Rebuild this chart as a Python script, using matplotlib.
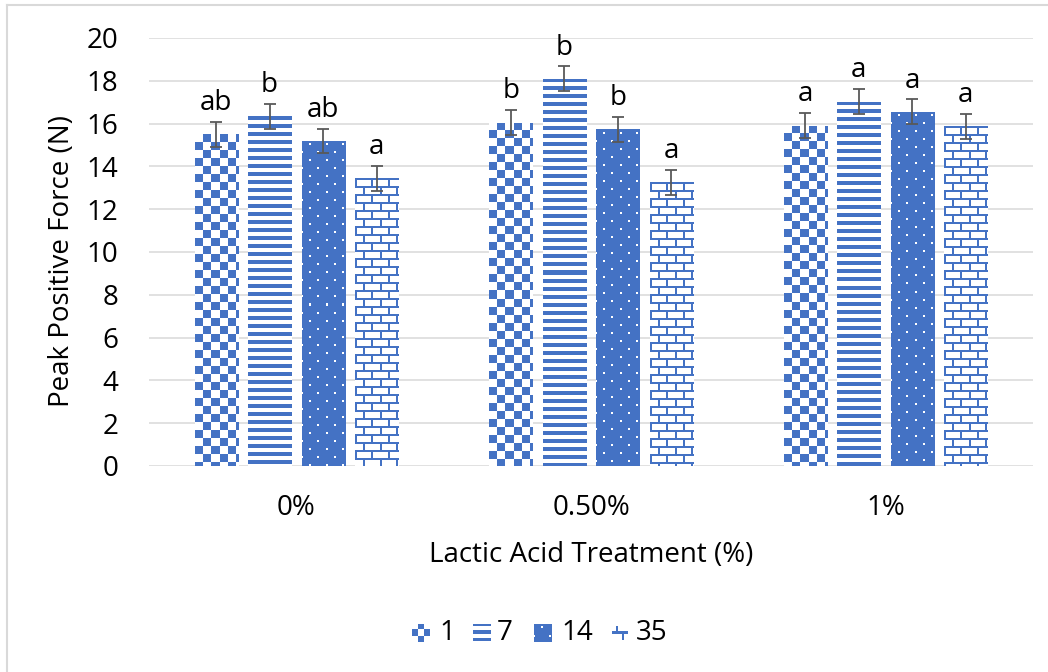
import numpy as np
import matplotlib
matplotlib.use('Agg')
import matplotlib.pyplot as plt
from matplotlib.lines import Line2D

# data
perlakuan = ['0%', '0.50%', '1%']
hari = ['1', '7', '14', '35']
gaya = [
    [15.5, 16.35, 15.2, 13.45],   # hari 1, 7, 14, 35 pada 0%
    [16.05, 18.1, 15.73, 13.25],  # 0.50%
    [15.9, 17.02, 16.55, 15.88],  # 1%
]
galat = [
    [0.58, 0.58, 0.57, 0.58],
    [0.58, 0.57, 0.58, 0.58],
    [0.58, 0.58, 0.58, 0.58],
]
huruf = [
    ['ab', 'b', 'ab', 'a'],
    ['b', 'b', 'b', 'a'],
    ['a', 'a', 'a', 'a'],
]
pola = ['checker', 'stripes', 'dots', 'brick']

biru = np.array([68, 114, 196]) / 255.0
putih = np.array([1.0, 1.0, 1.0])

plt.rcParams['font.family'] = ['Open Sans', 'DejaVu Sans']
ukuran_font = 20


def buat_pola(jenis, w, h, sel=8):
    # pola pixel (h, w, 3) ala arsiran Excel
    y, x = np.mgrid[0:h, 0:w]
    if jenis == 'checker':
        m = ((x // sel + y // sel) % 2) == 1
        dasar = putih
    elif jenis == 'stripes':
        m = (y % sel) < sel // 2
        dasar = putih
    elif jenis == 'dots':
        geser = (y // sel) % 2 * sel
        m = ((y % sel) >= 3) & ((y % sel) <= 4) & (((x + geser) % (2 * sel)) >= 7) & (((x + geser) % (2 * sel)) <= 8)
        img = np.empty((h, w, 3))
        img[:] = biru
        img[m] = putih
        return img
    else:  # brick
        geser = (y // sel) % 2 * sel
        m = ((y % sel) < 2) | (((x + geser) % (2 * sel)) < 2)
        dasar = putih
    img = np.empty((h, w, 3))
    img[:] = dasar
    img[m] = biru
    return img


fig = plt.figure(figsize=(10.48, 6.72), dpi=100)
W, H = 1048, 672
ax = fig.add_axes([149 / W, 1 - 466 / H, 884 / W, 428 / H])

n = len(hari)
lebar = 0.146
langkah = 0.1815
xpos = np.arange(len(perlakuan))
ax.set_xlim(-0.5, len(perlakuan) - 0.5)
ax.set_ylim(0, 20)

bar_list = []
for j in range(n):
    nilai = [gaya[i][j] for i in range(len(perlakuan))]
    xs = xpos + (j - (n - 1) / 2) * langkah
    bars = ax.bar(xs, nilai, width=lebar, color='none', linewidth=0, zorder=2)
    bar_list.append(bars)

# isi pola tiap batang, dipotong mengikuti bentuk batang
for j, bars in enumerate(bar_list):
    for b in bars:
        x0, y0 = b.get_x(), b.get_y()
        x1, y1 = x0 + b.get_width(), y0 + b.get_height()
        p0 = ax.transData.transform((x0, y0))
        p1 = ax.transData.transform((x1, y1))
        w = max(1, int(round(p1[0] - p0[0])))
        h = max(1, int(round(p1[1] - p0[1])))
        im = ax.imshow(buat_pola(pola[j], w, h), extent=(x0, x1, y0, y1),
                       aspect='auto', interpolation='nearest', zorder=2)
        im.set_clip_path(b)

ax.set_xlim(-0.5, len(perlakuan) - 0.5)
ax.set_ylim(0, 20)

# error bar dan huruf notasi
for j in range(n):
    xs = xpos + (j - (n - 1) / 2) * langkah
    nilai = [gaya[i][j] for i in range(len(perlakuan))]
    err = [galat[i][j] for i in range(len(perlakuan))]
    ax.errorbar(xs, nilai, yerr=err, fmt='none', ecolor='#595959',
                elinewidth=1.3, capsize=4.5, capthick=1.3, zorder=3)
    for i in range(len(perlakuan)):
        ax.annotate(huruf[i][j], (xs[i], nilai[i] + err[i]), xytext=(0, 3.5),
                    textcoords='offset points', ha='center', va='bottom',
                    fontsize=ukuran_font, color='black', zorder=4)

ax.set_yticks(np.arange(0, 21, 2))
ax.set_xticks(xpos)
ax.set_xticklabels(perlakuan)
ax.tick_params(axis='both', length=0, labelsize=ukuran_font)
ax.tick_params(axis='y', pad=22)
ax.tick_params(axis='x', pad=20)
ax.grid(axis='y', color='#D9D9D9', linewidth=1.1, zorder=0)
ax.set_axisbelow(True)
for s in ax.spines.values():
    s.set_visible(False)

ax.set_ylabel('Peak Positive Force (N)', fontsize=ukuran_font)
ax.yaxis.set_label_coords((62 - 149) / 884, (466 - 261) / 428)
ax.yaxis.label.set_va('center')
ax.set_xlabel('Lactic Acid Treatment (%)', fontsize=ukuran_font)
ax.xaxis.set_label_coords(0.5, (466 - 555) / 428)
ax.xaxis.label.set_va('center')

# legenda di bawah
ikon_x = [412, 473, 534, 611]
teks_x = [439, 497, 561, 636]
for j in range(n):
    cax = fig.add_axes([ikon_x[j] / W, 1 - 642 / H, 18 / W, 18 / H])
    if pola[j] == 'checker':
        img = buat_pola('checker', 18, 18, sel=6)
    elif pola[j] == 'stripes':
        img = buat_pola('stripes', 18, 18, sel=7)
    elif pola[j] == 'dots':
        img = buat_pola('dots', 18, 18, sel=8)
    else:
        img = np.ones((18, 18, 3))
        img[8:10, 1:17] = biru
        img[3:8, 5:7] = biru
        img[10:16, 11:13] = biru
    cax.imshow(img, interpolation='nearest', aspect='auto')
    cax.axis('off')
    fig.text(teks_x[j] / W, 1 - 633 / H, hari[j], fontsize=ukuran_font,
             ha='left', va='center')

# bingkai grafik
fig.add_artist(Line2D([6.5 / W, 6.5 / W], [0, 1 - 5 / H], color='#D9D9D9', linewidth=1.5))
fig.add_artist(Line2D([6.5 / W, 1], [1 - 5 / H, 1 - 5 / H], color='#D9D9D9', linewidth=1.5))

fig.savefig('out.png', dpi=100)
